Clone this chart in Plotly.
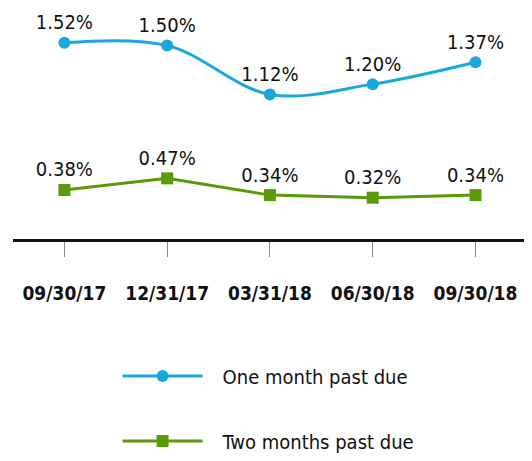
import plotly.graph_objects as go

categories = ["09/30/17", "12/31/17", "03/31/18", "06/30/18", "09/30/18"]
one_month = [1.52, 1.50, 1.12, 1.20, 1.37]
two_months = [0.38, 0.47, 0.34, 0.32, 0.34]
series_names = ["One month past due", "Two months past due"]

FONT = "DejaVu Sans Condensed, Liberation Sans Narrow, sans-serif"
BLUE = "#19a8dc"
GREEN = "#5b9a0a"
PAD = "\u00a0\u00a0\u2009"

fig = go.Figure()
fig.add_trace(go.Scatter(
    x=categories, y=one_month, name=PAD + series_names[0],
    mode="lines+markers+text", legendgroup="a",
    line=dict(color=BLUE, width=3, shape="spline", smoothing=1.0),
    marker=dict(symbol="circle", size=12, color=BLUE),
    text=[f"{v:.2f}%" for v in one_month], textposition="top center",
    textfont=dict(family=FONT, size=20, color="#111"),
    cliponaxis=False,
))
fig.add_trace(go.Scatter(
    x=categories, y=two_months, name=PAD + series_names[1],
    mode="lines+markers+text", legendgroup="b",
    line=dict(color=GREEN, width=3),
    marker=dict(symbol="square", size=12, color=GREEN),
    text=[f"{v:.2f}%" for v in two_months], textposition="top center",
    textfont=dict(family=FONT, size=20, color="#111"),
    cliponaxis=False,
))

fig.update_layout(
    width=524, height=453,
    margin=dict(l=5, r=0, t=0, b=219),
    paper_bgcolor="white", plot_bgcolor="white",
    font=dict(family=FONT, size=20, color="#111"),
    showlegend=True,
    xaxis=dict(
        type="category", range=[-0.5, 4.55], automargin=False,
        showline=True, linecolor="#111", linewidth=3,
        ticks="outside", ticklen=15, tickcolor="#888", tickwidth=1,
        tickfont=dict(family=FONT, size=19, color="#111", weight="bold"),
        ticklabelstandoff=20,
        showgrid=False, zeroline=False,
    ),
    yaxis=dict(range=[0, 1.79], visible=False, showgrid=False, zeroline=False,
               automargin=False),
    legend=dict(x=0.2015, y=-0.5085, xanchor="left", yanchor="top",
                orientation="v", traceorder="grouped", tracegroupgap=36,
                itemwidth=80, font=dict(family=FONT, size=20, color="#111"),
                bgcolor="rgba(0,0,0,0)"),
)

fig.write_html("out.html")
